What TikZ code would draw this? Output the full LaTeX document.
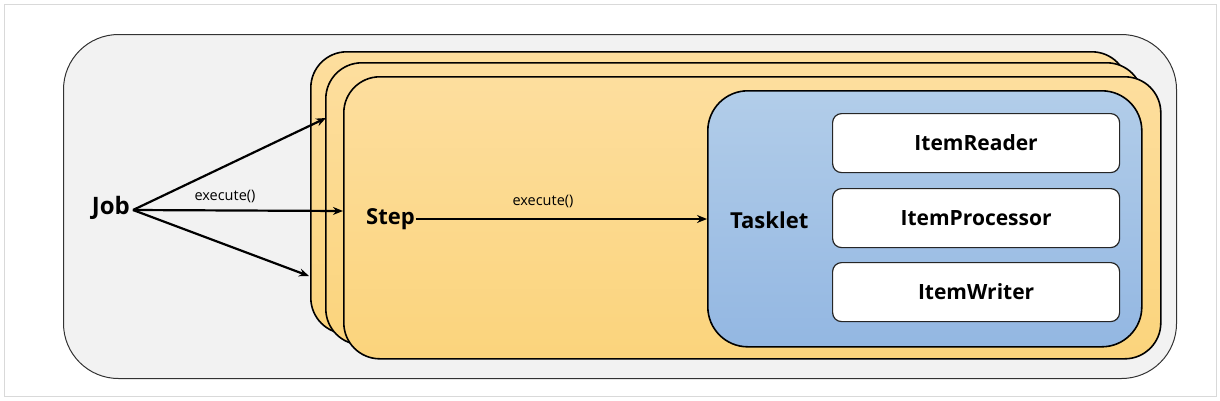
\documentclass[tikz,border=0pt]{standalone}
\usepackage{fontspec}
\setmainfont{Open Sans}
\usetikzlibrary{arrows.meta}
\definecolor{jobgray}{HTML}{F2F2F2}
\definecolor{frameg}{HTML}{D9D9D9}
\definecolor{steptop}{HTML}{FDDE9E}
\definecolor{stepbot}{HTML}{FBD47C}
\definecolor{tasktop}{HTML}{B2CDE9}
\definecolor{taskbot}{HTML}{93B7E2}
\tikzset{
  jobbox/.style={draw=black!80, line width=1pt, fill=jobgray, rounded corners=55pt, anchor=north west, inner sep=0pt},
  stepbox/.style={draw=black, line width=1.6pt, top color=steptop, bottom color=stepbot, rounded corners=36pt, anchor=north west, inner sep=0pt, minimum width=817pt, minimum height=282pt},
  taskbox/.style={draw=black, line width=1.6pt, top color=tasktop, bottom color=taskbot, rounded corners=40pt, anchor=north west, inner sep=0pt},
  itembox/.style={draw=black!85, line width=1.2pt, fill=white, rounded corners=9pt, anchor=north west, inner sep=0pt, minimum width=287pt, minimum height=59pt},
  itemlabel/.style={font=\bfseries\fontsize{21}{25}\selectfont},
  biglabel/.style={font=\bfseries\fontsize{22}{26}\selectfont, inner sep=0pt},
  small/.style={font=\fontsize{14.5}{17}\selectfont, inner sep=0pt},
  arr/.style={line width=2.2pt, -{Stealth[length=10pt,width=8pt]}}
}
\begin{document}
\begin{tikzpicture}[x=1pt,y=-1pt]
\useasboundingbox (0,0) rectangle (1220,400);
\node[draw=frameg, line width=1pt, minimum width=1212pt, minimum height=392pt, anchor=north west, inner sep=0pt] (frame) at (4,4) {};
\node[jobbox, minimum width=1113pt, minimum height=344pt] (jobc) at (63,34) {};
\node[stepbox] (s1) at (310,51) {};
\node[stepbox] (s2) at (325,62) {};
\node[stepbox] (s3) at (343,76) {};
\node[taskbox, minimum width=434pt, minimum height=256pt] (task) at (707,90) {};
\node[itembox] (reader) at (832,113) {};
\node[itemlabel] at (reader.center) {ItemReader};
\node[itembox] (proc) at (832,188) {};
\node[itemlabel] at (proc.center) {ItemProcessor};
\node[itembox] (writer) at (832,262) {};
\node[itemlabel] at (writer.center) {ItemWriter};
\node[biglabel, anchor=east, font=\bfseries\fontsize{24}{28}\selectfont] (job) at (130,208) {Job};
\node[biglabel, anchor=west] (step) at (366,219) {Step};
\node[biglabel, anchor=west] (tasklet) at (730,220) {Tasklet};
\coordinate (jo) at (133,210);
\coordinate (t1) at (326,118);
\coordinate (t2) at (343,211);
\coordinate (t3) at (309,276);
\draw[arr] (jo) -- (t1);
\draw[arr] (jo) -- (t2);
\draw[arr] (jo) -- (t3);
\node[small] (ex1) at (225,196) {execute()};
\draw[arr] (step.east) ++(1pt,0) -- (task.west |- step.east);
\node[small] (ex2) at (543,201) {execute()};
\end{tikzpicture}
\end{document}
